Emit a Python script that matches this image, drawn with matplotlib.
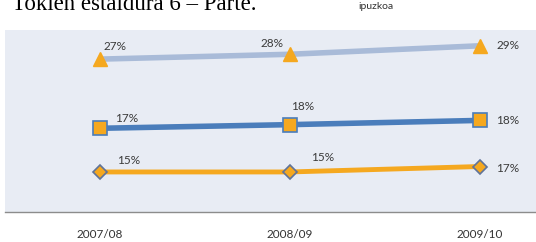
import matplotlib.pyplot as plt

# ----------------------- datos -----------------------
cursos = ["2007/08", "2008/09", "2009/10"]

# etiquetas de cada serie (lo que se lee en el grafico)
etiq_triangulo = ["27%", "28%", "29%"]
etiq_cuadrado = ["17%", "18%", "18%"]
etiq_rombo = ["15%", "15%", "17%"]

# altura a la que se dibuja cada punto (escala oculta, estimada)
nivel_triangulo = [25.2, 26.0, 27.4]
nivel_cuadrado = [13.8, 14.4, 15.1]
nivel_rombo = [6.6, 6.6, 7.5]

# ----------------------- grafico -----------------------
plt.rcParams['font.family'] = ['Lato', 'DejaVu Sans']

fig = plt.figure(figsize=(5.36, 2.42), dpi=100)
ax = fig.add_axes([5 / 536, 30 / 242, 531 / 536, 182 / 242])
ax.set_facecolor('#e8ecf4')

x = range(len(cursos))
naranja = '#f5a81f'

ax.plot(x, nivel_triangulo, color='#a9bbd8', lw=4, marker='^', ms=9.5,
        mfc=naranja, mec=naranja, solid_capstyle='butt', zorder=3)
ax.plot(x, nivel_cuadrado, color='#4a7dbb', lw=4, marker='s', ms=9.5,
        mfc=naranja, mec='#4a7dbb', mew=1.2, solid_capstyle='butt', zorder=3)
ax.plot(x, nivel_rombo, color=naranja, lw=3.5, marker='D', ms=7,
        mfc=naranja, mec='#5f7399', mew=1.2, solid_capstyle='butt', zorder=3)

# posicion de las etiquetas (pixeles respecto al punto)
desp_tri = [(15, 13), (-18, 11), (28, 0)]
desp_cua = [(27, 10), (13, 18), (28, 0)]
desp_rom = [(29, 11), (33, 14), (28, -2)]

for niveles, etiquetas, desp in [(nivel_triangulo, etiq_triangulo, desp_tri),
                                 (nivel_cuadrado, etiq_cuadrado, desp_cua),
                                 (nivel_rombo, etiq_rombo, desp_rom)]:
    for i in x:
        ax.annotate(etiquetas[i], (i, niveles[i]), xytext=desp[i],
                    textcoords='offset pixels', ha='center', va='center',
                    fontsize=8.5, color='#3a3a3a')

ax.set_xlim(-0.5, 2.295)
ax.set_ylim(0, 30)
ax.set_yticks([])
ax.set_xticks(list(x))
ax.set_xticklabels(cursos, fontsize=8.5, color='#333333')
ax.tick_params(axis='x', length=0, pad=12)
for lado in ['top', 'right', 'left']:
    ax.spines[lado].set_visible(False)
ax.spines['bottom'].set_color('#8c8c8c')
ax.spines['bottom'].set_linewidth(1)

# texto de la pagina escaneada (cortado arriba, como en el original)
fig.text(12 / 536, 1 - 9.5 / 242, "Tokien estaldura 6 \u2013 Parte.",
         family=['Liberation Serif', 'DejaVu Serif'], fontsize=16.5,
         va='baseline', ha='left', color='black')
fig.text(358 / 536, 1 - 9 / 242, "ipuzkoa", fontsize=7.5,
         va='baseline', ha='left', color='#333333')

fig.savefig('out.png', dpi=100)
